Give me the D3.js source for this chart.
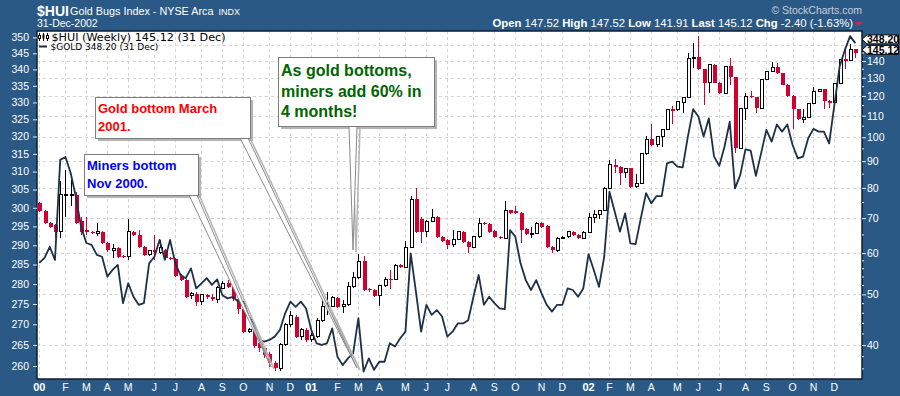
<!DOCTYPE html>
<html>
<head>
<meta charset="utf-8">
<script src="https://cdn.jsdelivr.net/npm/d3@7"></script>
<style>
  body { margin: 0; background: #2b5985; }
  svg { display: block; }
</style>
</head>
<body>
<div id="chart"></div>
<script>
const width = 900;
const height = 396;
const plotLeft = 37, plotRight = 862, plotTop = 31, plotBottom = 379;
const bgColor = "#2b5985";
const downColor = "#d2002e";
const goldColor = "#1e3048";
const sans = "'Liberation Sans', Arial, sans-serif";

// weekly $HUI candles, Jan 2000 - Dec 2002
const huiOpen = [
  74.7, 72.1, 68.4, 67.9, 65.9, 77.4, 77.5, 77.6, 69.0, 66.4, 65.9, 65.3, 65.9, 62.7, 60.7, 61.3, 59.3, 59.1, 65.9, 65.0,
  61.7, 59.5, 60.8, 60.1, 60.8, 58.6, 58.4, 54.3, 53.3, 49.7, 50.2, 48.4, 49.9, 49.5, 48.9, 51.4, 52.5, 51.6, 48.9, 46.8,
  42.4, 42.8, 40.3, 39.4, 38.5, 36.9, 36.1, 40.1, 43.7, 45.3, 41.6, 42.8, 40.9, 41.6, 44.6, 47.4, 47.4, 49.3, 47.5, 47.9,
  51.7, 53.8, 57.9, 51.3, 51.0, 49.7, 51.9, 53.6, 53.5, 56.9, 56.4, 61.6, 76.1, 69.7, 65.9, 69.0, 70.3, 64.5, 63.6, 62.2,
  63.8, 65.9, 63.1, 61.6, 64.5, 68.6, 68.1, 66.1, 64.3, 64.1, 72.4, 72.1, 71.5, 66.6, 65.3, 65.5, 68.6, 67.6, 61.7, 60.7,
  64.1, 64.5, 65.9, 65.0, 64.1, 65.8, 70.3, 71.2, 72.4, 79.9, 88.5, 87.9, 85.6, 87.2, 80.4, 81.6, 92.9, 99.1, 96.7, 100.3,
  103.6, 113.2, 112.8, 116.5, 119.3, 141.7, 142.3, 134.9, 127.3, 137.6, 127.3, 121.4, 136.9, 130.3, 95.3, 113.7, 120.0, 119.3, 113.7, 129.2,
  133.6, 136.1, 132.6, 126.0, 120.0, 113.2, 108.3, 109.3, 116.2, 122.3, 123.6, 117.4, 116.5, 126.9, 141.1, 140.3, 147.52
];
const huiHigh = [
  75.2, 72.4, 68.7, 68.2, 82.3, 86.6, 82.8, 78.5, 70.5, 70.5, 66.2, 68.4, 66.2, 63.0, 62.4, 61.6, 59.6, 69.7, 66.2, 66.4,
  62.0, 60.9, 65.0, 63.6, 61.1, 58.9, 58.7, 54.6, 53.6, 50.5, 50.5, 50.2, 50.2, 50.2, 51.8, 53.0, 53.3, 51.9, 49.2, 47.1,
  43.1, 43.1, 40.6, 39.7, 38.8, 37.2, 40.4, 44.0, 46.5, 45.6, 43.1, 43.1, 42.2, 45.0, 49.1, 50.6, 49.6, 49.5, 48.8, 52.8,
  55.3, 59.8, 59.3, 51.5, 51.3, 52.2, 54.0, 55.7, 57.3, 57.2, 63.4, 77.2, 79.9, 70.2, 69.3, 72.8, 70.6, 64.8, 63.9, 66.4,
  66.2, 66.2, 63.4, 64.8, 70.0, 68.9, 68.4, 66.4, 64.6, 75.5, 72.7, 73.9, 71.8, 66.9, 67.4, 68.7, 68.9, 67.9, 62.0, 64.4,
  64.6, 66.2, 66.2, 65.3, 66.1, 71.5, 72.6, 72.7, 80.2, 90.5, 90.8, 88.2, 87.5, 87.5, 85.1, 93.2, 100.6, 105.9, 100.6, 103.9,
  113.5, 114.8, 117.4, 119.6, 145.3, 151.4, 156.0, 135.2, 138.0, 138.0, 127.6, 137.2, 141.7, 130.6, 114.0, 121.4, 122.9, 119.6, 129.5, 133.9,
  139.2, 138.6, 132.9, 126.3, 120.3, 113.5, 113.2, 116.5, 125.1, 123.9, 123.9, 117.7, 127.2, 141.0, 147.4, 150.9, 147.52
];
const huiLow = [
  71.8, 68.1, 67.1, 64.1, 64.1, 70.5, 73.7, 68.3, 65.0, 65.0, 65.2, 64.7, 62.4, 60.4, 58.6, 58.8, 58.8, 58.2, 64.7, 61.4,
  59.2, 59.2, 58.2, 59.8, 58.3, 58.1, 54.0, 53.0, 49.2, 49.0, 47.5, 47.8, 49.1, 48.5, 48.2, 51.1, 51.4, 48.6, 45.8, 42.1,
  42.1, 39.5, 38.7, 37.8, 36.3, 35.6, 35.6, 39.8, 43.4, 41.2, 40.9, 40.6, 40.6, 41.3, 44.3, 45.7, 47.2, 47.0, 46.1, 47.6,
  51.4, 53.5, 50.8, 50.5, 49.4, 47.5, 51.6, 51.1, 53.2, 56.1, 56.1, 61.3, 65.5, 62.7, 64.5, 68.8, 64.2, 63.1, 61.0, 61.7,
  63.5, 62.8, 60.1, 61.3, 64.2, 67.8, 65.6, 64.0, 63.8, 63.8, 71.2, 71.2, 62.7, 65.0, 64.1, 65.2, 67.1, 61.4, 60.0, 60.4,
  63.8, 64.0, 64.7, 63.8, 63.8, 65.5, 68.6, 69.7, 72.1, 79.6, 85.3, 81.0, 83.5, 80.1, 80.1, 81.3, 92.6, 96.4, 96.0, 96.0,
  103.3, 106.0, 112.5, 111.5, 119.0, 135.5, 134.6, 115.4, 121.4, 127.0, 121.1, 121.1, 126.0, 93.2, 95.0, 108.0, 119.0, 111.2, 113.4, 128.9,
  133.3, 132.3, 125.7, 119.7, 103.6, 108.0, 106.7, 109.0, 115.9, 122.0, 113.2, 113.7, 116.2, 126.6, 134.9, 140.0, 141.91
];
const huiClose = [
  72.1, 68.4, 67.4, 65.9, 77.6, 77.6, 77.7, 68.6, 65.9, 65.8, 65.5, 65.9, 62.7, 60.7, 61.3, 59.1, 59.1, 65.9, 65.0, 61.7,
  59.5, 60.6, 60.4, 61.5, 58.6, 58.4, 54.3, 53.3, 49.5, 50.2, 48.4, 49.9, 49.4, 49.1, 51.5, 52.5, 51.7, 48.9, 46.8, 42.4,
  42.8, 39.8, 39.4, 38.3, 36.9, 36.1, 40.1, 43.7, 45.5, 41.5, 42.8, 40.9, 41.8, 44.6, 47.4, 47.6, 49.3, 47.4, 47.9, 51.7,
  53.8, 57.9, 51.0, 50.9, 49.7, 51.9, 53.5, 53.4, 56.9, 56.4, 61.6, 76.1, 65.9, 65.9, 69.0, 70.3, 64.5, 63.4, 62.2, 63.8,
  65.9, 63.1, 61.6, 64.5, 68.4, 68.1, 65.9, 64.3, 64.1, 72.4, 71.5, 71.5, 66.4, 65.3, 65.5, 68.4, 67.4, 61.7, 60.7, 64.1,
  64.3, 65.9, 65.0, 64.1, 65.8, 70.3, 71.2, 72.4, 79.9, 88.5, 87.6, 85.6, 87.2, 80.4, 81.6, 92.9, 99.1, 96.7, 100.3, 103.6,
  113.2, 112.5, 117.1, 119.3, 141.7, 142.3, 134.9, 127.3, 137.6, 127.3, 121.4, 136.9, 130.3, 95.3, 113.7, 119.7, 119.3, 113.7, 129.2, 133.6,
  136.1, 132.6, 126.0, 120.0, 113.2, 108.3, 109.3, 116.2, 122.3, 123.6, 117.1, 116.5, 126.9, 140.7, 140.3, 147.52, 145.12
];
// weekly $GOLD close, same weeks
const goldClose = [
  285.4, 286.7, 289.6, 286.2, 313.3, 314.1, 309.6, 302.9, 294.8, 290.6, 290.1, 287.5, 287.0, 281.9, 283.6, 284.9, 275.2, 280.2, 276.8, 274.8,
  275.2, 285.3, 287.0, 291.4, 286.2, 291.4, 285.3, 282.3, 281.5, 284.0, 278.9, 280.2, 281.5, 279.8, 281.2, 277.2, 276.4, 276.8, 275.6, 275.6,
  272.0, 270.2, 266.2, 265.8, 266.2, 267.0, 268.6, 272.7, 275.6, 274.3, 275.6, 273.9, 268.6, 265.4, 265.0, 265.4, 269.0, 262.2, 260.2, 261.8,
  263.0, 271.5, 258.7, 261.8, 259.1, 261.0, 261.0, 265.4, 264.6, 266.6, 268.2, 287.9, 278.1, 268.2, 274.8, 272.3, 273.5, 271.9, 267.0, 268.2,
  270.2, 270.2, 271.0, 276.8, 282.3, 274.8, 276.8, 275.2, 273.9, 273.7, 294.0, 292.3, 285.3, 281.0, 278.5, 281.0, 277.7, 274.8, 273.1, 274.8,
  274.8, 278.9, 278.5, 276.8, 278.9, 287.7, 283.6, 279.3, 287.0, 304.4, 299.0, 293.6, 298.5, 290.5, 290.3, 297.2, 304.0, 301.2, 303.2, 303.2,
  312.3, 312.8, 311.4, 311.2, 320.0, 328.0, 325.8, 320.0, 325.3, 314.2, 311.6, 317.1, 324.3, 305.3, 309.0, 316.3, 315.9, 308.8, 315.2, 321.9,
  318.5, 323.5, 321.4, 323.5, 317.6, 313.7, 314.2, 319.5, 322.2, 321.4, 321.4, 318.0, 329.2, 340.9, 346.0, 350.4, 348.2
];

const goldTicks = d3.range(260, 351, 5);
const huiTicks = d3.range(40, 141, 10);
const huiGrid = d3.range(40, 151, 10);
const huiMinor = [36, 38, 42, 44, 46, 48, 52, 54, 56, 58, 65, 75, 85, 95, 105, 115, 125, 135, 145];

const ohlcLabels = [["Open", "147.52"], ["High", "147.52"], ["Low", "141.91"], ["Last", "145.12"], ["Chg", "-2.40 (-1.63%)"]];
const lastGold = "348.20", lastHui = "145.12";

// one bar per week, dated by the Monday
const weeks = d3.timeMonday.range(new Date(2000, 0, 3), new Date(2003, 0, 1));
const candles = weeks.map((d, i) => ({
  i: i, date: d, o: huiOpen[i], h: huiHigh[i], l: huiLow[i], c: huiClose[i]
}));

const svg = d3.select("#chart").append("svg")
  .attr("width", width)
  .attr("height", height);

svg.append("rect").attr("width", width).attr("height", height).attr("fill", bgColor);
svg.append("rect")
  .attr("x", plotLeft).attr("y", plotTop)
  .attr("width", plotRight - plotLeft).attr("height", plotBottom - plotTop)
  .attr("fill", "#fff");

const x = d3.scaleLinear().domain([0, weeks.length - 1]).range([39.3, 855.3]);
const yHui = d3.scaleLog().domain([40, 140]).range([345, 61]);
const yGold = d3.scaleLog().domain([260, 345]).range([366, 53.3]);

// month starts
const monthStarts = candles.filter((d, i) => i === 0 || d.date.getMonth() !== weeks[i - 1].getMonth());

// Grid
const grid = svg.append("g")
  .attr("stroke", "#d4d4d4")
  .attr("stroke-dasharray", "3,3")
  .attr("shape-rendering", "crispEdges");
grid.selectAll(".h").data(huiGrid).enter().append("line")
  .attr("x1", plotLeft).attr("x2", plotRight)
  .attr("y1", d => Math.round(yHui(d)) + 0.5).attr("y2", d => Math.round(yHui(d)) + 0.5);
grid.selectAll(".v").data(monthStarts).enter().append("line")
  .attr("x1", d => Math.round(x(d.i)) + 0.5).attr("x2", d => Math.round(x(d.i)) + 0.5)
  .attr("y1", plotTop).attr("y2", plotBottom);

// Candles
const candleG = svg.append("g").attr("shape-rendering", "crispEdges");
candleG.selectAll(".wick").data(candles).enter().append("line")
  .attr("x1", d => Math.round(x(d.i)) + 0.5).attr("x2", d => Math.round(x(d.i)) + 0.5)
  .attr("y1", d => yHui(d.h)).attr("y2", d => yHui(d.l))
  .attr("stroke", d => d.c < d.o ? downColor : "#000")
  .attr("stroke-width", 1);
candleG.selectAll(".body").data(candles).enter().append("rect")
  .attr("x", d => d.c < d.o ? Math.round(x(d.i)) - 1.5 : Math.round(x(d.i)) - 1)
  .attr("y", d => yHui(Math.max(d.o, d.c)))
  .attr("width", d => d.c < d.o ? 4 : 3)
  .attr("height", d => Math.max(1, yHui(Math.min(d.o, d.c)) - yHui(Math.max(d.o, d.c))))
  .attr("fill", d => d.c < d.o ? downColor : "#fff")
  .attr("stroke", d => d.c < d.o ? "none" : "#000")
  .attr("stroke-width", 1);

// Gold line
const goldLine = d3.line()
  .x((d, i) => x(i))
  .y(d => yGold(d));
svg.append("path")
  .datum(goldClose)
  .attr("d", goldLine)
  .attr("fill", "none")
  .attr("stroke", goldColor)
  .attr("stroke-width", 1.8)
  .attr("stroke-linejoin", "round");

// Callouts
function callout(box, pointer, lines, color, fontSize, lineGap) {
  let g = svg.append("g");
  let pts = pointer.map(p => p.join(",")).join(" ");
  let shadowPts = pointer.map(p => [p[0] + 3, p[1] + 2].join(",")).join(" ");
  g.append("polygon").attr("points", shadowPts).attr("fill", "none").attr("stroke", "#b4b4b4").attr("stroke-width", 1.5);
  g.append("rect")
    .attr("x", box[0] + 3).attr("y", box[1] + 3).attr("width", box[2]).attr("height", box[3])
    .attr("fill", "#b4b4b4");
  g.append("polygon").attr("points", pts).attr("fill", "#fff").attr("stroke", "#8a8a8a").attr("stroke-width", 1);
  g.append("rect")
    .attr("x", box[0] + 0.5).attr("y", box[1] + 0.5).attr("width", box[2]).attr("height", box[3])
    .attr("fill", "#fff").attr("stroke", "#7d7d7d");
  lines.forEach((t, k) => {
    g.append("text")
      .attr("x", box[0] + 3).attr("y", box[1] + fontSize + 3 + k * lineGap)
      .attr("fill", color)
      .style("font", `bold ${fontSize}px ${sans}`)
      .text(t);
  });
}
callout([84, 154, 114, 41], [[189, 195], [197, 195], [271, 367]], ["Miners bottom", "Nov 2000."], "#0000ff", 13, 18);
callout([95, 97, 155, 41], [[240, 138], [248, 138], [357, 368]], ["Gold bottom March", "2001."], "#ff0000", 13, 18);
callout([278, 57, 156, 69], [[349, 126], [357, 126], [353, 250]], ["As gold bottoms,", "miners add 60% in", "4 months!"], "#006400", 16, 20.5);

// Plot border
svg.append("rect")
  .attr("x", plotLeft).attr("y", plotTop)
  .attr("width", plotRight - plotLeft).attr("height", plotBottom - plotTop)
  .attr("fill", "none").attr("stroke", "#0c1c36").attr("stroke-width", 1.5);

// Left axis: gold
const leftAxis = svg.append("g")
  .attr("transform", `translate(${plotLeft},0)`)
  .call(d3.axisLeft(yGold).tickValues(goldTicks).tickSize(4).tickFormat(d3.format("d")));
leftAxis.select(".domain").remove();
leftAxis.selectAll("line").attr("stroke", "#e4eaf0");
leftAxis.selectAll("text").attr("fill", "#fff").attr("dx", "-1").style("font", `10.5px ${sans}`);

// Right axis: HUI
const rightAxis = svg.append("g")
  .attr("transform", `translate(${plotRight},0)`)
  .call(d3.axisRight(yHui).tickValues(huiTicks).tickSize(4).tickFormat(d3.format("d")));
rightAxis.select(".domain").remove();
rightAxis.selectAll("line").attr("stroke", "#e4eaf0");
rightAxis.selectAll("text").attr("fill", "#fff").attr("dx", "-2").style("font", `10.5px ${sans}`);
svg.append("g").selectAll("line").data(huiMinor).enter().append("line")
  .attr("x1", plotRight).attr("x2", plotRight + 2)
  .attr("y1", d => yHui(d)).attr("y2", d => yHui(d))
  .attr("stroke", "#e4eaf0");

// X labels
svg.append("g").selectAll("text").data(monthStarts).enter().append("text")
  .attr("x", d => x(d.i))
  .attr("y", 391)
  .attr("text-anchor", "middle")
  .attr("fill", "#fff")
  .style("font", d => d.date.getMonth() === 0 ? `bold 11px ${sans}` : `10.5px ${sans}`)
  .text(d => d.date.getMonth() === 0 ? d3.timeFormat("%y")(d.date) : d3.timeFormat("%b")(d.date)[0]);

// Last value tags
function tag(yc, label) {
  let g = svg.append("g");
  g.append("polygon")
    .attr("points", [[plotRight, yc], [plotRight + 5, yc - 4.5], [898.5, yc - 4.5], [898.5, yc + 4.5], [plotRight + 5, yc + 4.5]].map(p => p.join(",")).join(" "))
    .attr("fill", "#fff").attr("stroke", "#000");
  g.append("text")
    .attr("x", plotRight + 5).attr("y", yc + 4)
    .attr("fill", "#000")
    .style("font", `bold 10.5px ${sans}`)
    .text(label);
}
let yTagHui = yHui(+lastHui) - 3;
let yTagGold = Math.min(yGold(+lastGold), yTagHui - 10.5);
tag(yTagGold, lastGold);
tag(yTagHui, lastHui);

// Legend
const legend = svg.append("g");
legend.append("line").attr("x1", 39.5).attr("x2", 39.5).attr("y1", 33).attr("y2", 41).attr("stroke", "#000");
legend.append("rect").attr("x", 38.5).attr("y", 35.5).attr("width", 2).attr("height", 3).attr("fill", "#fff").attr("stroke", "#000");
legend.append("line").attr("x1", 43.5).attr("x2", 43.5).attr("y1", 33).attr("y2", 41).attr("stroke", "#000");
legend.append("rect").attr("x", 42.5).attr("y", 34.5).attr("width", 2).attr("height", 4).attr("fill", "#000");
legend.append("line").attr("x1", 47.5).attr("x2", 47.5).attr("y1", 33).attr("y2", 41).attr("stroke", "#000");
legend.append("rect").attr("x", 46.5).attr("y", 35.5).attr("width", 2).attr("height", 3).attr("fill", "#fff").attr("stroke", "#000");
legend.append("text").attr("x", 51.5).attr("y", 40.5).attr("fill", "#000")
  .style("font", "11.2px 'DejaVu Sans', Verdana, sans-serif")
  .text(`$HUI (Weekly) ${lastHui} (31 Dec)`);
legend.append("line").attr("x1", 39).attr("x2", 47).attr("y1", 46.5).attr("y2", 46.5)
  .attr("stroke", goldColor).attr("stroke-width", 2);
legend.append("text").attr("x", 50.5).attr("y", 50).attr("fill", "#000")
  .style("font", "9px 'DejaVu Sans', Verdana, sans-serif")
  .text(`$GOLD ${lastGold} (31 Dec)`);

// Header
svg.append("text").attr("x", 37).attr("y", 15.5).attr("fill", "#fff")
  .style("font", `bold 14px ${sans}`).text("$HUI");
const subTitle = svg.append("text").attr("x", 70).attr("y", 15).attr("fill", "#fff")
  .style("font", `10.8px ${sans}`).text("Gold Bugs Index - NYSE Arca");
svg.append("text").attr("x", 70 + subTitle.node().getComputedTextLength() + 5).attr("y", 15).attr("fill", "#fff")
  .style("font", `9px ${sans}`).text("INDX");
svg.append("text").attr("x", 37).attr("y", 27).attr("fill", "#fff")
  .style("font", `10.5px ${sans}`).text("31-Dec-2002");
svg.append("text").attr("x", 862).attr("y", 14).attr("text-anchor", "end").attr("fill", "#c5d0db")
  .style("font", `10.5px ${sans}`).text("\u00a9 StockCharts.com");

const ohlc = svg.append("text").attr("x", 853).attr("y", 27).attr("text-anchor", "end").attr("fill", "#fff")
  .style("font", `11.3px ${sans}`);
ohlcLabels.forEach((p, k) => {
  ohlc.append("tspan").style("font-weight", "bold").text((k ? " " : "") + p[0] + " ");
  ohlc.append("tspan").text(p[1]);
});
svg.append("polygon").attr("points", "855,22 862,22 858.5,26").attr("fill", "#e0203c");
</script>
</body>
</html>
